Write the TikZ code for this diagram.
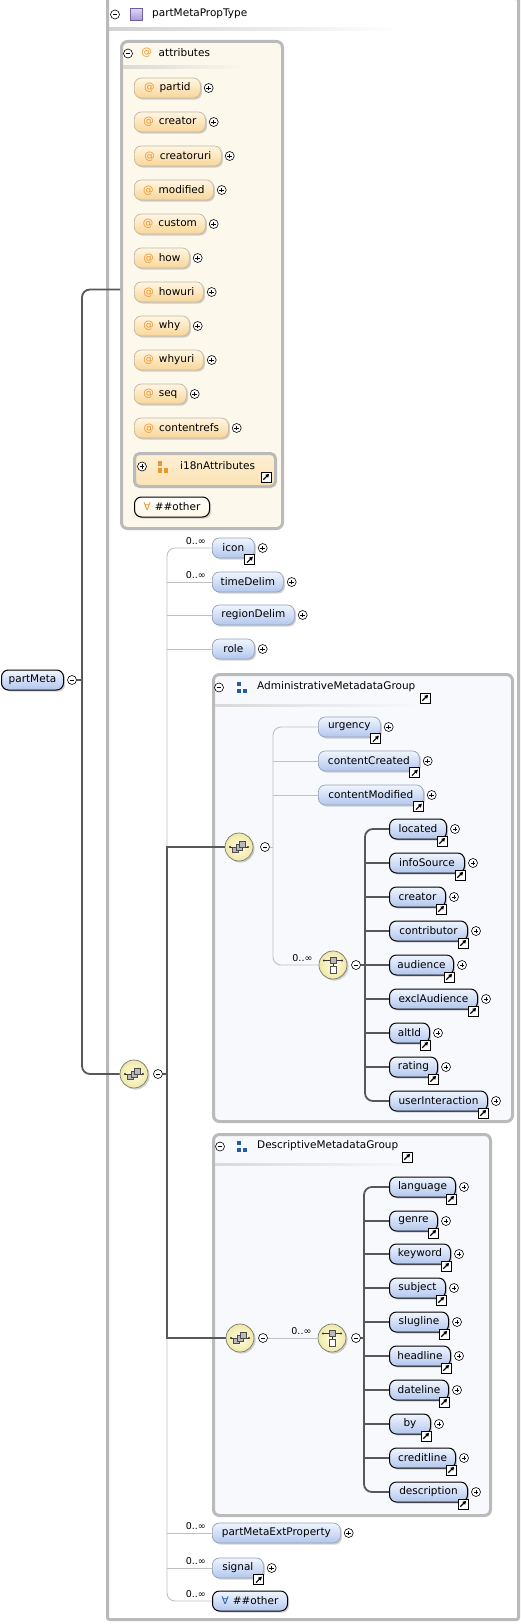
\documentclass[tikz,border=0pt]{standalone}
\usepackage{fontspec}
\setmainfont{DejaVu Sans}
\usetikzlibrary{shadows,arrows.meta,calc}
\definecolor{elTop}{RGB}{240,245,254}
\definecolor{elBot}{RGB}{178,199,238}
\definecolor{elOpt}{RGB}{150,160,182}
\definecolor{atTop}{RGB}{255,246,228}
\definecolor{atBot}{RGB}{248,214,152}
\definecolor{atBorder}{RGB}{196,182,158}
\definecolor{atOrange}{RGB}{232,150,50}
\definecolor{boxGray}{RGB}{186,186,186}
\definecolor{attrFill}{RGB}{253,248,236}
\definecolor{grpFill}{RGB}{247,249,253}
\definecolor{darkLn}{RGB}{88,88,88}
\definecolor{lightLn}{RGB}{192,192,192}
\definecolor{compIn}{RGB}{255,253,228}
\definecolor{compOut}{RGB}{240,232,168}
\definecolor{compEdge}{RGB}{120,120,110}
\definecolor{grpBlue}{RGB}{30,92,172}
\definecolor{typeTop}{RGB}{222,214,244}
\definecolor{typeBot}{RGB}{168,150,216}
\definecolor{typeEdge}{RGB}{112,96,160}
\definecolor{i18nTop}{RGB}{254,240,212}
\definecolor{i18nBot}{RGB}{250,226,180}
\newcommand\myat{{\color{atOrange}@}\kern5pt}
\newcommand\mkbox[6]{\node[#1, minimum width={#4-#3}] (#2) at (#3,#5) {#6};}
\newcommand\mkel[6]{\node[#1, minimum width={#4-#3}] (#2) at (#3,#5) {#6};
  \node[plusc] (#2p) at ([xshift=8pt]#2.east) {};}
\newcommand\linkarrow[1]{\draw[-{Triangle[length=3.6pt,width=3.8pt]}, line width=1.1pt]
  ([shift={(-2.7pt,-2.7pt)}]#1.center) -- ([shift={(3.2pt,3.2pt)}]#1.center);}
\newcommand\mklink[1]{\node[linkic] (#1l) at ([xshift=-5pt,yshift=-1.5pt]#1.south east) {};
  \linkarrow{#1l}}
\newcommand\mult[1]{\node[multl] (#1m) at ([xshift=-6pt,yshift=3.5pt]#1.west) {0..∞};}
\newcommand\grpicon[3]{%
  \fill[#3] (#1,#2-5.5) rectangle ++(4.5,4.5);
  \fill[#3] (#1,#2+1.5) rectangle ++(4.5,4.5);
  \fill[#3] (#1+6,#2+1.5) rectangle ++(4.5,4.5);}
\newcommand\seqicon[1]{\begin{scope}[shift={(#1.center)}]
  \draw[line width=0.6pt, black!80] (-9,0) -- (9,0);
  \fill[black!80] (-9,0) circle (1.1pt) (9,0) circle (1.1pt);
  \foreach \dx/\dy in {-3.5/2.8, 0/0, 3.5/-2.8}
    \filldraw[fill=gray!55, draw=black!70, line width=0.5pt] (\dx-2.8,\dy-2.8) rectangle (\dx+2.8,\dy+2.8);
  \end{scope}}
\newcommand\choiceicon[1]{\begin{scope}[shift={(#1.center)}]
  \draw[line width=0.6pt, black!80] (-9,-4.5) -- (9,-4.5);
  \fill[black!80] (-9,-4.5) circle (1.1pt) (9,-4.5) circle (1.1pt);
  \draw[line width=0.6pt, black!80] (0,-4.5) -- (0,4.5);
  \filldraw[fill=gray!55, draw=black!70, line width=0.5pt] (-3.2,-7.8) rectangle (3.2,-1.3);
  \filldraw[fill=white, draw=black!70, line width=0.5pt] (-3.2,1.3) rectangle (3.2,7.8);
  \end{scope}}
\begin{document}
\begin{tikzpicture}[x=1pt,y=-1pt,
  base/.style={font=\fontsize{10.5pt}{12pt}\selectfont, text=black, inner sep=0pt},
  elbox/.style={base, anchor=west, rounded corners=7pt, minimum height=20pt,
    drop shadow={shadow xshift=1.6pt, shadow yshift=-1.6pt, opacity=0.35}},
  optel/.style={elbox, top color=elTop, bottom color=elBot, draw=elOpt, line width=0.7pt},
  reqel/.style={elbox, top color=elTop, bottom color=elBot, draw=black, line width=1pt},
  attel/.style={elbox, top color=atTop, bottom color=atBot, draw=atBorder, line width=0.7pt},
  attreq/.style={elbox, top color=white, bottom color=atTop, draw=black, line width=1pt},
  plusc/.style={circle, draw=black, fill=white, minimum size=9pt, inner sep=0pt, line width=0.6pt,
    path picture={\draw[line width=0.7pt]
      ([xshift=-2.3pt]path picture bounding box.center) -- ([xshift=2.3pt]path picture bounding box.center)
      ([yshift=-2.3pt]path picture bounding box.center) -- ([yshift=2.3pt]path picture bounding box.center);}},
  minusc/.style={circle, draw=black, fill=white, minimum size=9pt, inner sep=0pt, line width=0.6pt,
    path picture={\draw[line width=0.7pt]
      ([xshift=-2.3pt]path picture bounding box.center) -- ([xshift=2.3pt]path picture bounding box.center);}},
  linkic/.style={rectangle, draw=black, fill=white, minimum size=10pt, inner sep=0pt, line width=0.9pt},
  comp/.style={circle, minimum size=28pt, inner sep=0pt, inner color=compIn, outer color=compOut,
    draw=compEdge, line width=0.7pt, drop shadow={shadow xshift=1.6pt, shadow yshift=-1.6pt, opacity=0.35}},
  darkln/.style={draw=darkLn, line width=1.8pt},
  lightln/.style={draw=lightLn, line width=0.9pt},
  multl/.style={base, font=\fontsize{9.5pt}{11pt}\selectfont, anchor=south east},
  hdr/.style={base, anchor=west},
  boxbase/.style={anchor=north west, inner sep=0pt, line width=3pt, draw=boxGray},
]
\useasboundingbox (0,0) rectangle (520,1624);

% ---------- containers ----------
\node[boxbase, fill=white, rounded corners=2pt, minimum width=411pt, minimum height=1621pt] (outer) at (106,-3) {};
\node[minusc] (outm) at (115,14.5) {};
\node[draw=typeEdge, top color=typeTop, bottom color=typeBot, minimum width=12pt, minimum height=12pt, inner sep=0pt, line width=0.6pt] (ticon) at (136,14.5) {};
\node[hdr] (outt) at (152,14) {partMetaPropType};
\fill[left color=gray!35, right color=white] (109,28) rectangle (400,30.5);

\node[boxbase, fill=attrFill, rounded corners=6pt, minimum width=161pt, minimum height=487pt] (attrs) at (120,40) {};
\node[minusc] (attm) at (128,53.5) {};
\node[base, text=atOrange] (atticon) at (146.5,53) {@};
\node[hdr] (attt) at (158.5,53) {attributes};
\fill[left color=gray!30, right color=attrFill] (123,66) rectangle (245,68.5);

\node[boxbase, fill=grpFill, rounded corners=6pt, minimum width=299pt, minimum height=447pt] (admbox) at (212,673) {};
\node[minusc] (admm) at (219,687.5) {};
\grpicon{236.5}{687}{grpBlue}
\node[hdr] (admt) at (257,687) {AdministrativeMetadataGroup};
\node[linkic] (admlk) at (425,698) {}; \linkarrow{admlk}
\fill[left color=gray!30, right color=grpFill] (215,704) rectangle (420,706.5);

\node[boxbase, fill=grpFill, rounded corners=6pt, minimum width=277pt, minimum height=381pt] (descbox) at (212,1133) {};
\node[minusc] (descm) at (220,1146.5) {};
\grpicon{236.5}{1146}{grpBlue}
\node[hdr] (desct) at (257,1146) {DescriptiveMetadataGroup};
\node[linkic] (desclk) at (407,1157) {}; \linkarrow{desclk}
\fill[left color=gray!30, right color=grpFill] (215,1163) rectangle (420,1165.5);

% ---------- attributes ----------
\mkel{attel}{apartid}{134}{200}{88}{\myat partid}
\mkel{attel}{acreator}{134}{205}{122}{\myat creator}
\mkel{attel}{acreuri}{134}{221}{156}{\myat creatoruri}
\mkel{attel}{amod}{134}{213}{190}{\myat modified}
\mkel{attel}{acust}{134}{205}{224}{\myat custom}
\mkel{attel}{ahow}{134}{189}{258}{\myat how}
\mkel{attel}{ahowuri}{134}{203}{292}{\myat howuri}
\mkel{attel}{awhy}{134}{189}{326}{\myat why}
\mkel{attel}{awhyuri}{134}{203}{360}{\myat whyuri}
\mkel{attel}{aseq}{134}{186}{394}{\myat seq}
\mkel{attel}{acref}{134}{228}{428}{\myat contentrefs}

\node[boxbase, top color=i18nTop, bottom color=i18nBot, rounded corners=5pt, minimum width=141pt, minimum height=33pt] (i18n) at (133,452) {};
\node[plusc] (i18np) at (142,466.5) {};
\grpicon{157.7}{466.5}{atOrange}
\node[hdr] (i18nt) at (180,466) {i18nAttributes};
\node[linkic] (i18nl) at (266,477) {}; \linkarrow{i18nl}

\mkbox{attreq}{aoth}{134}{209}{507}{{\color{atOrange}∀}\kern4pt\#\#other}

% ---------- root ----------
\mkbox{reqel}{pm}{1}{63}{680}{partMeta}
\node[minusc] (pmm) at (72,680) {};
\coordinate (trunk) at (82,680);

% ---------- main sequence ----------
\node[comp] (seq1) at (134,1074) {}; \seqicon{seq1}
\node[minusc] (seq1m) at (158,1074) {};
\coordinate (vt) at (167,1074);

\mkel{optel}{icon}{212}{254}{548}{icon} \mklink{icon} \mult{icon}
\mkel{optel}{tdelim}{212}{283}{582}{timeDelim} \mult{tdelim}
\mkel{optel}{rdelim}{212}{294}{615}{regionDelim}
\mkel{optel}{role}{212}{254}{649}{role}
\mkel{optel}{pmext}{212}{340}{1533}{partMetaExtProperty} \mult{pmext}
\mkel{optel}{signal}{212}{263}{1568}{signal} \mklink{signal} \mult{signal}
\mkbox{reqel}{oth2}{212}{287}{1601}{{\color{grpBlue}∀}\kern4pt\#\#other} \mult{oth2}

% ---------- administrative group ----------
\node[comp] (admseq) at (239,847) {}; \seqicon{admseq}
\node[minusc] (admseqm) at (265,847) {};
\coordinate (atr) at (273,847);
\mkel{optel}{urg}{318}{380}{727}{urgency} \mklink{urg}
\mkel{optel}{ccr}{318}{419}{761}{contentCreated} \mklink{ccr}
\mkel{optel}{cmod}{318}{423}{795}{contentModified} \mklink{cmod}
\node[comp] (achoice) at (333,965) {}; \choiceicon{achoice}
\node[multl] (achm) at ([xshift=-6pt,yshift=3.5pt]achoice.west) {0..∞};
\node[minusc] (achoicem) at (356,965) {};
\coordinate (act) at (365,965);
\mkel{reqel}{loc}{389}{446}{829}{located} \mklink{loc}
\mkel{reqel}{isrc}{389}{464}{863}{infoSource} \mklink{isrc}
\mkel{reqel}{acre}{389}{445}{897}{creator} \mklink{acre}
\mkel{reqel}{contr}{389}{467}{931}{contributor} \mklink{contr}
\mkel{reqel}{aud}{389}{453}{965}{audience} \mklink{aud}
\mkel{reqel}{excl}{389}{477}{999}{exclAudience} \mklink{excl}
\mkel{reqel}{alt}{389}{429}{1033}{altId} \mklink{alt}
\mkel{reqel}{rat}{389}{437}{1067}{rating} \mklink{rat}
\mkel{reqel}{uint}{389}{487}{1101}{userInteraction} \mklink{uint}

% ---------- descriptive group ----------
\node[comp] (descseq) at (240,1338) {}; \seqicon{descseq}
\node[minusc] (descseqm) at (263,1338) {};
\node[comp] (dchoice) at (332,1338) {}; \choiceicon{dchoice}
\node[multl] (dchm) at ([xshift=-6pt,yshift=3.5pt]dchoice.west) {0..∞};
\node[minusc] (dchoicem) at (356,1338) {};
\coordinate (dct) at (364,1338);
\mkel{reqel}{lang}{389}{455}{1187}{language} \mklink{lang}
\mkel{reqel}{genre}{389}{437}{1221}{genre} \mklink{genre}
\mkel{reqel}{kw}{389}{450}{1254}{keyword} \mklink{kw}
\mkel{reqel}{subj}{389}{445}{1288}{subject} \mklink{subj}
\mkel{reqel}{slug}{389}{448}{1322}{slugline} \mklink{slug}
\mkel{reqel}{head}{389}{450}{1356}{headline} \mklink{head}
\mkel{reqel}{datel}{389}{448}{1390}{dateline} \mklink{datel}
\mkel{reqel}{by}{389}{430}{1424}{by} \mklink{by}
\mkel{reqel}{cred}{389}{455}{1458}{creditline} \mklink{cred}
\mkel{reqel}{descr}{389}{467}{1492}{description} \mklink{descr}

% ---------- connectors ----------
\draw[darkln] (pmm.east) -- (trunk);
\draw[darkln, rounded corners=8pt] ([yshift=-4.5pt]attrs.west) -| (trunk) |- (seq1.west);

\draw[lightln, rounded corners=8pt] (icon.west) -| (vt) |- (oth2.west);
\foreach \n in {tdelim, rdelim, role, pmext, signal} \draw[lightln] (vt |- \n.west) -- (\n.west);
\draw[darkln] (seq1m.east) -- (vt);
\draw[darkln] (admseq.west) -| (vt) |- (descseq.west);

\draw[lightln] (admseqm.east) -- (atr);
\draw[lightln, rounded corners=8pt] (urg.west) -| (atr) |- (achoice.west);
\foreach \n in {ccr, cmod} \draw[lightln] (atr |- \n.west) -- (\n.west);
\draw[darkln] (achoicem.east) -- (act);
\draw[darkln, rounded corners=8pt] (loc.west) -| (act) |- (uint.west);
\foreach \n in {isrc, acre, contr, aud, excl, alt, rat} \draw[darkln] (act |- \n.west) -- (\n.west);

\draw[lightln] (descseqm.east) -- (dchoice.west);
\draw[darkln] (dchoicem.east) -- (dct);
\draw[darkln, rounded corners=8pt] (lang.west) -| (dct) |- (descr.west);
\foreach \n in {genre, kw, subj, slug, head, datel, by, cred} \draw[darkln] (dct |- \n.west) -- (\n.west);
\end{tikzpicture}
\end{document}
